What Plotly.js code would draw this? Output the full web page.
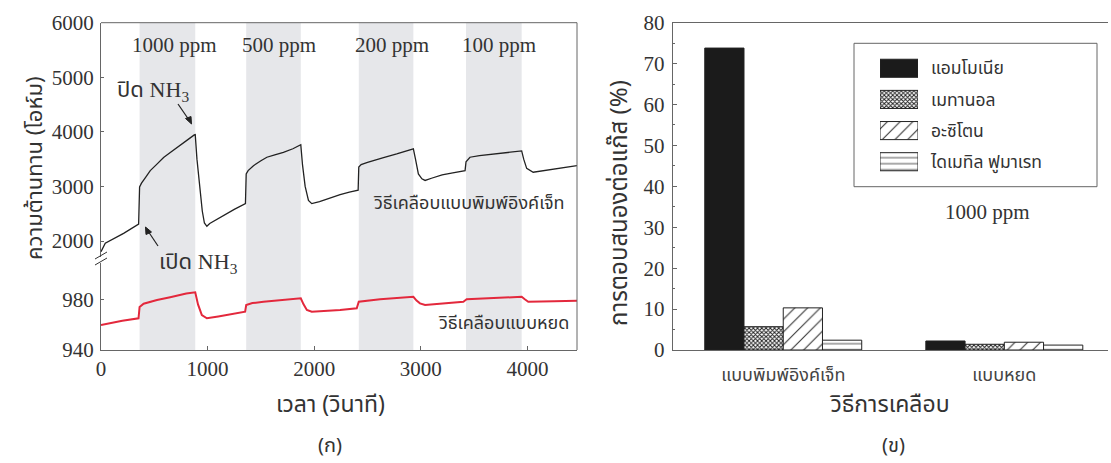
<!DOCTYPE html>
<html>
<head>
<meta charset="utf-8">
<script src="https://cdn.plot.ly/plotly-3.0.1.min.js"></script>
<style>html,body{margin:0;padding:0;background:#fff;}#chart{width:1111px;height:463px;}</style>
</head>
<body>
<div id="chart"></div>
<script>
// ---------- data: panel (ก) resistance vs time ----------
const inkjetTime = [0, 40, 212, 353, 362, 380, 420, 462, 520, 587, 650, 712, 780, 837, 875, 884, 900, 930, 950, 970, 993, 1020, 1149, 1250, 1355,
  1362, 1380, 1430, 1500, 1556, 1630, 1711, 1800, 1868, 1874, 1890, 1915, 1946, 1977, 2050, 2149, 2243, 2330, 2412,
  2418, 2440, 2500, 2555, 2650, 2774, 2860, 2930, 2950, 2977, 3010, 3040, 3100, 3200, 3300, 3415,
  3424, 3461, 3550, 3711, 3830, 3946, 3965, 3993, 4054, 4200, 4350, 4465];
const inkjetOhm = [1805, 1958, 2140, 2310, 2990, 3060, 3170, 3290, 3400, 3530, 3620, 3715, 3810, 3890, 3945, 3950, 3500, 2900, 2550, 2330, 2270, 2320, 2470, 2580, 2685,
  3230, 3290, 3380, 3470, 3535, 3580, 3625, 3690, 3750, 3765, 3400, 3000, 2745, 2685, 2720, 2790, 2850, 2895, 2930,
  3355, 3400, 3440, 3475, 3530, 3595, 3650, 3690, 3500, 3230, 3140, 3110, 3150, 3210, 3250, 3290,
  3450, 3535, 3565, 3600, 3625, 3650, 3500, 3330, 3260, 3300, 3340, 3380];

const dropTime = [0, 100, 200, 352, 362, 400, 460, 525, 649, 743, 800, 884, 910, 946, 993, 1100, 1250, 1352,
  1362, 1420, 1524, 1700, 1874, 1900, 1931, 1977, 2149, 2243, 2399,
  2418, 2618, 2800, 2930, 2960, 2992, 3040, 3200, 3399,
  3430, 3700, 3946, 3975, 4008, 4250, 4465];
const dropOhm = [959.7, 961.5, 963, 965, 974, 976.5, 978, 979.4, 981.6, 983.4, 984.5, 985.5, 976, 967.6, 965, 966.5, 968.5, 970.2,
  975.5, 977, 978.1, 979.5, 980.8, 976, 971.6, 970.2, 971, 971.6, 972.9,
  978.1, 980, 981.2, 982, 979, 976.8, 975.5, 976.8, 978.1,
  980, 981, 982, 980, 978.1, 978.5, 978.9];

// NH3 exposure windows (seconds) and their concentrations
const bandStart = [362, 1362, 2418, 3424];
const bandEnd   = [884, 1874, 2930, 3946];
const bandLabels = ["1000 ppm", "500 ppm", "200 ppm", "100 ppm"];

const timeTicks = [0, 1000, 2000, 3000, 4000];
const upperTicks = [2000, 3000, 4000, 5000, 6000];
const lowerTicks = [940, 980];

// ---------- data: panel (ข) gas response ----------
const methods = ["แบบพิมพ์อิงค์เจ็ท", "แบบหยด"];
const gases = ["แอมโมเนีย", "เมทานอล", "อะซิโตน", "ไดเมทิล ฟูมาเรท"];
const ammonia = [73.8, 2.2];
const methanol = [5.7, 1.4];
const acetone = [10.3, 1.9];
const dimethylFumarate = [2.4, 1.2];
const swatchLength = [1];

// ---------- helpers ----------
const W = 1111, H = 463;
const px = x => x / W;
const py = y => 1 - y / H;
const SERIF = "Liberation Serif, Times New Roman, serif";
const THAI = "Noto Sans Thai, Noto Sans Thai Looped, Loma, Garuda, Norasi, Tlwg Typo, Noto Sans, DejaVu Sans, sans-serif";
const TXT = "#333";
const AX = "#666";

const patterns = [
  {color: "#1b1b1b", pat: {shape: ""}},
  {color: "#ffffff", pat: {shape: "x", size: 3, solidity: 0.55, fgcolor: "#222", bgcolor: "#ffffff"}},
  {color: "#ffffff", pat: {shape: "/", size: 9, solidity: 0.12, fgcolor: "#333", bgcolor: "#ffffff"}},
  {color: "#ffffff", pat: {shape: "-", size: 6, solidity: 0.14, fgcolor: "#333", bgcolor: "#ffffff"}}
];
const gasValues = [ammonia, methanol, acetone, dimethylFumarate];

const traces = [
  {x: inkjetTime, y: inkjetOhm, xaxis: "x", yaxis: "y2", type: "scatter", mode: "lines",
   line: {color: "#222", width: 1.3}, showlegend: false, hoverinfo: "skip"},
  {x: dropTime, y: dropOhm, xaxis: "x", yaxis: "y", type: "scatter", mode: "lines",
   line: {color: "#e3283c", width: 2}, showlegend: false, hoverinfo: "skip"}
];
gases.forEach((g, i) => {
  traces.push({
    type: "bar", name: g, x: methods, y: gasValues[i], xaxis: "x2", yaxis: "y3",
    marker: {color: patterns[i].color, line: {color: "#222", width: 1}, pattern: patterns[i].pat},
    showlegend: false, hoverinfo: "skip"
  });
});
// legend swatches drawn as bars on their own small axes
gases.forEach((g, i) => {
  traces.push({
    type: "bar", orientation: "h", y: [g], x: swatchLength, xaxis: "x3", yaxis: "y4", width: 0.58,
    offsetgroup: "swatch",
    marker: {color: patterns[i].color, line: {color: "#222", width: 1}, pattern: patterns[i].pat},
    showlegend: false, hoverinfo: "skip"
  });
});

const shapes = [];
bandStart.forEach((s, i) => {
  shapes.push({type: "rect", xref: "x", yref: "paper", x0: s, x1: bandEnd[i], y0: py(350), y1: py(22.7),
    fillcolor: "#e6e7ea", line: {width: 0}, layer: "below"});
});
// frame of panel (ก): top and right edges
shapes.push({type: "line", xref: "paper", yref: "paper", x0: px(101), x1: px(577), y0: py(22.7), y1: py(22.7), line: {color: AX, width: 1}});
shapes.push({type: "line", xref: "paper", yref: "paper", x0: px(577), x1: px(577), y0: py(22.7), y1: py(350), line: {color: AX, width: 1}});
// axis break marks
shapes.push({type: "line", xref: "paper", yref: "paper", x0: px(95), x1: px(107), y0: py(259), y1: py(252), line: {color: "#333", width: 1}});
shapes.push({type: "line", xref: "paper", yref: "paper", x0: px(95), x1: px(107), y0: py(265), y1: py(258), line: {color: "#333", width: 1}});
// legend frame of panel (ข)
shapes.push({type: "rect", xref: "paper", yref: "paper", x0: px(854), x1: px(1097), y0: py(186.7), y1: py(43.3),
  line: {color: AX, width: 1}, fillcolor: "rgba(0,0,0,0)"});
// pointer arrows for switching NH3 on / off
shapes.push({type: "line", xref: "paper", yref: "paper", x0: px(178), x1: px(189), y0: py(104), y1: py(120), line: {color: "#222", width: 1.2}});
shapes.push({type: "path", xref: "paper", yref: "paper",
  path: `M ${px(191.5)},${py(124)} L ${px(185.5)},${py(118.5)} L ${px(191)},${py(116.5)} Z`,
  fillcolor: "#222", line: {color: "#222", width: 1}});
shapes.push({type: "line", xref: "paper", yref: "paper", x0: px(158), x1: px(148), y0: py(246), y1: py(231), line: {color: "#222", width: 1.2}});
shapes.push({type: "path", xref: "paper", yref: "paper",
  path: `M ${px(145.5)},${py(227)} L ${px(151.5)},${py(232)} L ${px(146)},${py(234.5)} Z`,
  fillcolor: "#222", line: {color: "#222", width: 1}});

function note(text, x, y, font, extra) {
  return Object.assign({text: text, xref: "paper", yref: "paper", x: px(x), y: py(y), showarrow: false,
    xanchor: "center", yanchor: "middle", font: font}, extra || {});
}
const serifFont = {family: SERIF, size: 21, color: TXT};
const thaiBig = {family: THAI, size: 23, color: TXT};
const thaiMid = {family: THAI, size: 18, color: TXT};

const bandLabelX = [174, 279, 392, 499];
const annotations = [];
bandLabels.forEach((t, i) => annotations.push(note(t, bandLabelX[i], 45, serifFont)));
const nh3 = '<span style="font-family:Liberation Serif, serif">NH<sub>3</sub></span>';
annotations.push(note("ปิด " + nh3, 153, 91, {family: THAI, size: 22, color: TXT}));
annotations.push(note("เปิด " + nh3, 198, 262, {family: THAI, size: 22, color: TXT}));
annotations.push(note("วิธีเคลือบแบบพิมพ์อิงค์เจ็ท", 566, 203, thaiMid, {xanchor: "right"}));
annotations.push(note("วิธีเคลือบแบบหยด", 571, 323, thaiMid, {xanchor: "right"}));
annotations.push(note("ความต้านทาน (โอห์ม)", 35, 168, {family: THAI, size: 22, color: TXT}, {textangle: -90}));
annotations.push(note("เวลา (วินาที)", 330, 405, thaiBig));
annotations.push(note("(ก)", 330, 446, {family: THAI, size: 20, color: TXT}));
annotations.push(note("การตอบสนองต่อแก๊ส (%)", 620, 203, {family: THAI, size: 24, color: TXT}, {textangle: -90}));
annotations.push(note("วิธีการเคลือบ", 890, 405, thaiBig));
annotations.push(note("(ข)", 893, 446, {family: THAI, size: 20, color: TXT}));
annotations.push(note("1000 ppm", 987, 212, serifFont));

const tickFont = {family: SERIF, size: 21, color: TXT};
const layout = {
  width: W, height: H,
  margin: {l: 0, r: 0, t: 0, b: 0},
  paper_bgcolor: "#fff", plot_bgcolor: "rgba(0,0,0,0)",
  showlegend: false,
  barmode: "group", bargap: 0.29, bargroupgap: 0,
  xaxis: {domain: [px(101), px(577)], range: [0, 4465], anchor: "y", tickvals: timeTicks,
    showline: true, linecolor: AX, linewidth: 1, ticks: "inside", ticklen: 4, tickcolor: AX,
    tickfont: tickFont, showgrid: false, zeroline: false, ticklabelstandoff: 0},
  yaxis: {domain: [py(350), py(263.3)], range: [940, 1008.4], anchor: "x", tickvals: lowerTicks,
    showline: true, linecolor: AX, ticks: "inside", ticklen: 3, tickcolor: AX,
    tickfont: tickFont, showgrid: false, zeroline: false, ticklabelstandoff: 2},
  yaxis2: {domain: [py(257), py(22.7)], range: [1707, 6000], anchor: "x", tickvals: upperTicks,
    showline: true, linecolor: AX, ticks: "inside", ticklen: 3, tickcolor: AX,
    tickfont: tickFont, showgrid: false, zeroline: false, ticklabelstandoff: 2},
  xaxis2: {domain: [px(672.7), px(1108)], anchor: "y3", type: "category", range: [-0.5, 1.469],
    showline: true, mirror: true, linecolor: AX, ticks: "", showgrid: false, zeroline: false,
    tickfont: {family: THAI, size: 18, color: "#444"}, ticklabelstandoff: 8},
  yaxis3: {domain: [py(350), py(22.7)], anchor: "x2", range: [0, 80], dtick: 10,
    showline: true, linecolor: AX, ticks: "inside", ticklen: 4, tickcolor: AX,
    minor: {dtick: 5, ticks: "inside", ticklen: 2, tickcolor: AX},
    tickfont: tickFont, showgrid: false, zeroline: false, ticklabelstandoff: 3},
  xaxis3: {domain: [px(880), px(918)], anchor: "y4", range: [0, 1], visible: false, fixedrange: true},
  yaxis4: {domain: [py(177.3), py(52.7)], anchor: "x3", type: "category", autorange: "reversed", side: "right",
    showline: false, ticks: "", showgrid: false, zeroline: false, ticklabelstandoff: 12,
    tickfont: {family: THAI, size: 17.5, color: TXT}},
  shapes: shapes,
  annotations: annotations
};

Plotly.newPlot("chart", traces, layout, {staticPlot: true, displayModeBar: false});
</script>
</body>
</html>
